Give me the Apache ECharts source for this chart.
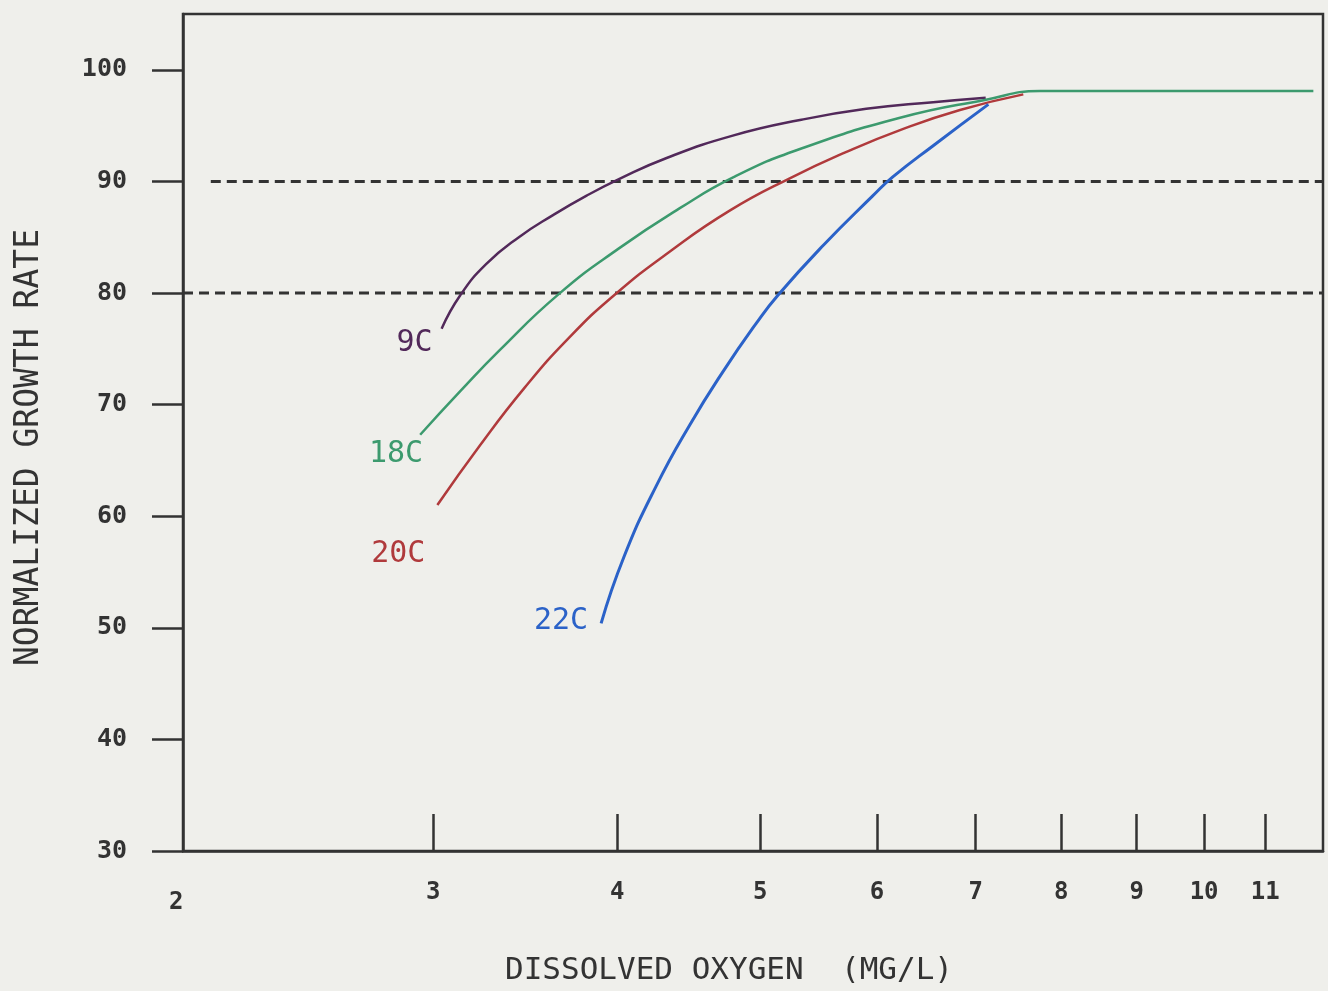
<!DOCTYPE html>
<html>
<head>
<meta charset="utf-8">
<script src="https://cdn.jsdelivr.net/npm/echarts@6/dist/echarts.min.js"></script>
<style>
html,body{margin:0;padding:0;background:#efefeb;}
#chart{width:1328px;height:991px;}
</style>
</head>
<body>
<div id="chart"></div>
<script>
// ---- data ----
const xTickValues = [3, 4, 5, 6, 7, 8, 9, 10, 11];
const yTickValues = [30, 40, 50, 60, 70, 80, 90, 100];
const xAxisMin = 2.03, xAxisMax = 12.04;
const yAxisMin = 30, yAxisMax = 105;

const seriesNames = ['9C', '18C', '20C', '22C'];
const seriesColors = ['#52295a', '#3c9a6e', '#b03a3c', '#2b62c8'];

const do9C   = [3.04, 3.13, 3.26, 3.43, 3.62, 3.81, 4.01, 4.32, 4.79, 5.32, 5.90, 6.55, 7.11];
const rate9C = [76.8, 79.8, 82.6, 85.0, 87.0, 88.7, 90.2, 92.1, 94.1, 95.5, 96.5, 97.1, 97.5];

const do18C   = [2.94, 3.13, 3.33, 3.65, 4.01, 4.41, 4.80, 5.32, 6.22, 7.10, 7.74, 11.86];
const rate18C = [67.3, 71.2, 74.9, 79.9, 84.0, 87.6, 90.4, 92.9, 95.7, 97.3, 98.1, 98.1];

const do20C   = [3.02, 3.23, 3.46, 3.71, 3.98, 4.34, 4.77, 5.24, 5.71, 6.22, 6.83, 7.54];
const rate20C = [61.0, 66.4, 71.5, 76.0, 79.8, 83.7, 87.4, 90.3, 92.6, 94.6, 96.4, 97.8];

const do22C   = [3.90, 4.04, 4.25, 4.48, 4.72, 4.97, 5.14, 5.52, 5.96, 6.15, 6.55, 7.14];
const rate22C = [50.4, 56.3, 62.7, 68.2, 73.0, 77.3, 79.8, 84.3, 88.7, 90.4, 93.2, 96.9];

const refLevels = [80, 90];
const refStartDO = [2.03, 2.12];

const xAxisTitle = 'DISSOLVED OXYGEN  (MG/L)';
const yAxisTitle = 'NORMALIZED GROWTH RATE';
const xStartLabel = '2';

// ---- styling ----
const FONT = 'DejaVu Sans Mono';
const INK = '#333333';
const labelOffsets = [[-4, 14], [8, 19], [-7, 49], [-8, -2]];

const curveDO = [do9C, do18C, do20C, do22C];
const curveRate = [rate9C, rate18C, rate20C, rate22C];

const series = [];
seriesNames.forEach((name, i) => {
  const xs = curveDO[i], ys = curveRate[i];
  const data = xs.map((x, j) => {
    if (j === 0) {
      return {
        value: [x, ys[j]],
        label: {
          show: true, formatter: name, position: 'left', distance: 5,
          offset: labelOffsets[i], color: seriesColors[i],
          fontFamily: FONT, fontSize: 30
        }
      };
    }
    return [x, ys[j]];
  });
  series.push({
    name: name, type: 'line', data: data, smooth: 0.5,
    symbol: 'circle', symbolSize: 0, showSymbol: true,
    lineStyle: { color: seriesColors[i], width: i === 3 ? 3 : 2.5 },
    itemStyle: { color: seriesColors[i] },
    emphasis: { disabled: true }, silent: true, z: 3
  });
});

refLevels.forEach((lvl, i) => {
  series.push({
    name: 'ref' + lvl, type: 'line',
    data: [[refStartDO[i], lvl], [xAxisMax, lvl]],
    showSymbol: false, symbol: 'none',
    lineStyle: { color: INK, width: 3, type: [10, 6] },
    emphasis: { disabled: true }, silent: true, z: 2
  });
});

const chart = echarts.init(document.getElementById('chart'), null, { renderer: 'canvas' });
chart.setOption({
  backgroundColor: '#efefeb',
  animation: false,
  grid: {
    left: 183, right: 5, top: 14, bottom: 140,
    show: true, borderColor: INK, borderWidth: 2.5, backgroundColor: 'transparent'
  },
  xAxis: {
    type: 'log', logBase: 10, min: xAxisMin, max: xAxisMax,
    name: xAxisTitle, nameLocation: 'middle', nameGap: 104,
    nameTextStyle: { fontFamily: FONT, fontSize: 31, color: INK, padding: [0, 48, 0, 0] },
    axisLine: { show: true, lineStyle: { color: INK, width: 2.5 } },
    axisTick: { show: true, inside: true, length: 37, customValues: xTickValues,
      lineStyle: { color: INK, width: 2.5 } },
    axisLabel: { show: true, customValues: xTickValues, margin: 30,
      fontFamily: FONT, fontSize: 24, fontWeight: 'bold', color: INK,
      formatter: v => String(Math.round(v)) },
    splitLine: { show: false }, minorTick: { show: false }
  },
  yAxis: {
    type: 'value', min: yAxisMin, max: yAxisMax, interval: 10,
    name: yAxisTitle, nameLocation: 'middle', nameGap: 137, nameRotate: 90,
    nameTextStyle: { fontFamily: FONT, fontSize: 33, color: INK, padding: [0, 30, 0, 0] },
    axisLine: { show: true, lineStyle: { color: INK, width: 2.5 } },
    axisTick: { show: true, inside: false, length: 31, customValues: yTickValues,
      lineStyle: { color: INK, width: 2.5 } },
    axisLabel: { show: true, customValues: yTickValues, margin: 56,
      fontFamily: FONT, fontSize: 25, fontWeight: 'bold', color: INK },
    splitLine: { show: false }
  },
  graphic: [{
    type: 'text', left: 169, top: 891, silent: true,
    style: { text: xStartLabel, fontFamily: FONT, fontSize: 24, fontWeight: 'bold', fill: INK }
  }],
  series: series
});
</script>
</body>
</html>
